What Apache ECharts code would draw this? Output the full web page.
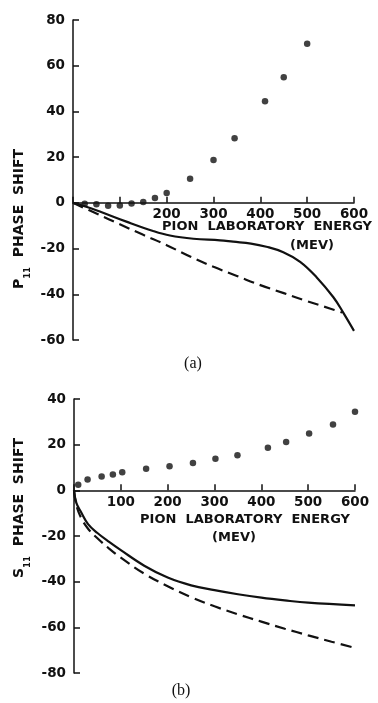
<!DOCTYPE html>
<html>
<head>
<meta charset="utf-8">
<script src="https://cdn.jsdelivr.net/npm/echarts@6/dist/echarts.min.js"></script>
<style>
html,body{margin:0;padding:0;background:#fff;}
#chart{width:378px;height:703px;}
</style>
</head>
<body>
<div id="chart"></div>
<script>
// ---- data: panel (a) P11 ----
const p11DotsE = [25, 50, 75, 100, 125, 150, 175, 200, 250, 300, 345, 410, 450, 500];
const p11DotsV = [-0.4, -0.6, -1.3, -1.2, -0.3, 0.4, 2.1, 4.3, 10.6, 18.8, 28.3, 44.4, 55, 69.6];
const p11SolidE = [0, 30, 60, 114, 171, 207, 257, 314, 342, 380, 413, 449, 485, 520, 556, 577, 600];
const p11SolidV = [0, -1.8, -4, -8.2, -12.3, -14.3, -15.7, -16.4, -17, -17.8, -19.2, -21.6, -25.8, -32.5, -41.3, -48, -56];
const p11DashE = [0, 50, 100, 150, 200, 250, 300, 350, 400, 450, 500, 550, 575];
const p11DashV = [0, -4.7, -9.4, -14, -18.5, -23.5, -28, -32, -36, -39.5, -43, -46.3, -48];
// ---- data: panel (b) S11 ----
const s11DotsE = [9, 29, 59, 83, 103, 154, 204, 254, 302, 349, 414, 453, 502, 553, 600];
const s11DotsV = [2.5, 4.7, 6.1, 6.9, 7.9, 9.4, 10.5, 12, 13.8, 15.4, 18.6, 21.2, 24.9, 28.8, 34.4];
const s11SolidE = [0, 5, 15, 30, 50, 75, 100, 150, 200, 250, 300, 350, 400, 450, 500, 600];
const s11SolidV = [0, -5.5, -9.5, -14.8, -18.7, -22.6, -26.2, -33, -38.2, -41.6, -43.7, -45.5, -47, -48.2, -49.2, -50.4];
const s11DashE = [0, 5, 15, 30, 50, 75, 100, 150, 200, 250, 300, 350, 400, 450, 500, 550, 600];
const s11DashV = [0, -6.5, -12, -16.8, -21, -25.5, -29.5, -36.5, -42, -46.8, -50.8, -54.3, -57.5, -60.6, -63.5, -66.3, -69];
// ---- axis ticks ----
const xTicksA = ['', '', '200', '300', '400', '500', '600'];
const xTicksB = ['', '100', '200', '300', '400', '500', '600'];
const xNameText = 'PION  LABORATORY  ENERGY';
const xUnitText = '(MEV)';

const zip = (a, b) => a.map((v, i) => [v, b[i]]);
const INK = '#111';
const FONT = 'DejaVu Sans';

function xAxisHidden(gridIndex) {
  return { type: 'value', gridIndex, min: 0, max: 600, interval: 100, show: false };
}
function xAxisShown(gridIndex, labels) {
  return {
    type: 'value', gridIndex, min: 0, max: 600, interval: 100,
    axisLine: { show: true, onZero: false, lineStyle: { color: INK, width: 1.5 } },
    axisTick: { show: true, inside: true, length: 6, lineStyle: { color: INK, width: 1.5 } },
    axisLabel: {
      margin: 5, color: INK, fontFamily: FONT, fontSize: 13.5, fontWeight: 'bold',
      formatter: v => labels[Math.round(v / 100)] || ''
    },
    splitLine: { show: false }
  };
}
function yAxisShown(gridIndex, min, max) {
  return {
    type: 'value', gridIndex, min, max, interval: 20,
    axisLine: { show: true, onZero: false, lineStyle: { color: INK, width: 1.5 } },
    axisTick: { show: true, inside: true, length: 6, lineStyle: { color: INK, width: 1.5 } },
    axisLabel: { margin: 8, color: INK, fontFamily: FONT, fontSize: 13.5, fontWeight: 'bold' },
    splitLine: { show: false }
  };
}
function yAxisHidden(gridIndex, min, max) {
  return { type: 'value', gridIndex, min, max, interval: 20, show: false };
}
function dots(i, e, v) {
  return { type: 'scatter', xAxisIndex: i, yAxisIndex: i, data: zip(e, v), symbol: 'circle', symbolSize: 6.5,
    itemStyle: { color: INK }, silent: true, z: 3, clip: false };
}
function curve(i, e, v, dashed) {
  return { type: 'line', xAxisIndex: i, yAxisIndex: i, data: zip(e, v), showSymbol: false, symbol: 'none',
    smooth: 0.4, clip: false,
    lineStyle: { color: INK, width: 2.2, type: dashed ? [11, 6] : 'solid' }, silent: true };
}
function txt(x, y, text, size) {
  return { type: 'text', x, y, silent: true,
    style: { text, fill: INK, font: 'bold ' + size + 'px "' + FONT + '"', align: 'center', verticalAlign: 'middle' } };
}
function yName(x, y, letter) {
  return { type: 'text', x, y, rotation: Math.PI / 2, silent: true,
    style: {
      text: '{p|' + letter + '}{s|11}{t|  PHASE  SHIFT}',
      align: 'center', verticalAlign: 'middle',
      rich: {
        p: { fontFamily: FONT, fontWeight: 'bold', fontSize: 14, fill: INK, color: INK, lineHeight: 26 },
        s: { fontFamily: FONT, fontWeight: 'bold', fontSize: 8.5, fill: INK, color: INK, lineHeight: 10, verticalAlign: 'bottom' },
        t: { fontFamily: FONT, fontWeight: 'bold', fontSize: 14, fill: INK, color: INK, lineHeight: 26 }
      }
    } };
}

const chart = echarts.init(document.getElementById('chart'), null, { renderer: 'canvas' });
chart.setOption({
  backgroundColor: '#fff',
  animation: false,
  grid: [
    { left: 73, top: 20, width: 281, height: 320 },        // data (a)
    { left: 73, top: 20, width: 281, height: 320 * 80 / 140 }, // axis at zero (a)
    { left: 74, top: 399, width: 281, height: 274 },       // data (b)
    { left: 74, top: 399, width: 281, height: 274 * 40 / 120 }  // axis at zero (b)
  ],
  xAxis: [xAxisHidden(0), xAxisShown(1, xTicksA), xAxisHidden(2), xAxisShown(3, xTicksB)],
  yAxis: [yAxisShown(0, -60, 80), yAxisHidden(1, 0, 80), yAxisShown(2, -80, 40), yAxisHidden(3, 0, 40)],
  series: [
    dots(0, p11DotsE, p11DotsV),
    curve(0, p11SolidE, p11SolidV, false),
    curve(0, p11DashE, p11DashV, true),
    dots(2, s11DotsE, s11DotsV),
    curve(2, s11SolidE, s11SolidV, false),
    curve(2, s11DashE, s11DashV, true)
  ],
  graphic: [
    txt(267, 227, xNameText, 13),
    txt(312, 246, xUnitText, 13),
    txt(245, 520, xNameText, 13),
    txt(234, 538, xUnitText, 13),
    yName(19, 219, 'P'),
    yName(19, 508, 'S'),
    { type: 'text', x: 193, y: 364, silent: true,
      style: { text: '(a)', fill: INK, font: '16px "Liberation Serif"', align: 'center', verticalAlign: 'middle' } },
    { type: 'text', x: 181, y: 691, silent: true,
      style: { text: '(b)', fill: INK, font: '16px "Liberation Serif"', align: 'center', verticalAlign: 'middle' } }
  ]
});
</script>
</body>
</html>
